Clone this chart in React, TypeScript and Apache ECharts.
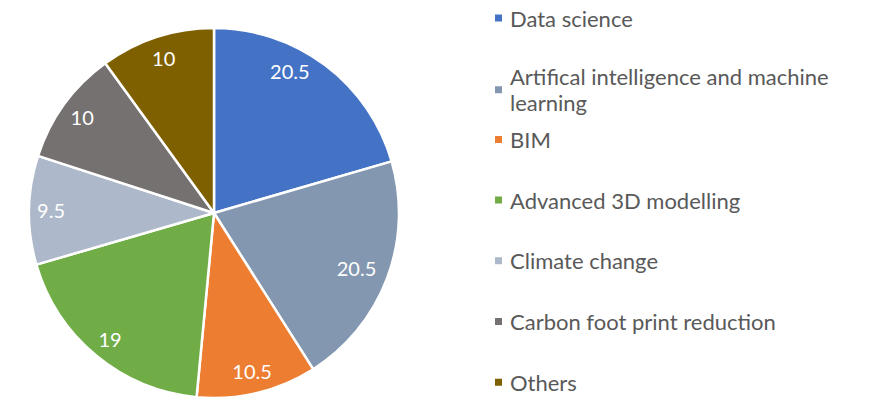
import React, { useEffect, useRef } from "react";
import * as echarts from "echarts";

const categories = [
  "Data science",
  "Artifical intelligence and machine learning",
  "BIM",
  "Advanced 3D modelling",
  "Climate change",
  "Carbon foot print reduction",
  "Others",
];
const values = [20.5, 20.5, 10.5, 19, 9.5, 10, 10];
const colors = ["#4472C4", "#8497B0", "#ED7D31", "#70AD47", "#ADB9CA", "#767171", "#7F6000"];

export default function App() {
  const ref = useRef<HTMLDivElement>(null);
  useEffect(() => {
    if (!ref.current) return;
    const chart = echarts.init(ref.current, undefined, { renderer: "svg" });
    const font = "Lato, 'Noto Sans', sans-serif";
    const data = categories.map((n, i) => ({ name: n, value: values[i], itemStyle: { color: colors[i] } }));
    const legends = categories.map((n, i) => ({
      orient: "vertical" as const,
      left: 493,
      top: 18 + i * 60.7 - 13,
      padding: 0,
      data: [n],
      icon: "rect",
      itemWidth: 9,
      itemHeight: 9,
      selectedMode: false,
      formatter: (name: string) =>
        name === "Artifical intelligence and machine learning"
          ? "Artifical intelligence and machine\nlearning"
          : name,
      textStyle: {
        color: "#595959",
        fontSize: 22,
        fontFamily: font,
        lineHeight: 26,
        height: 26,
        padding: [0, 0, 0, 2],
      },
    }));
    chart.setOption({
      animation: false,
      backgroundColor: "#ffffff",
      legend: legends,
      series: [
        {
          type: "pie",
          center: [214, 213],
          radius: [0, 185],
          startAngle: 90,
          clockwise: true,
          data,
          label: { show: false },
          labelLine: { show: false },
          itemStyle: { borderColor: "#ffffff", borderWidth: 2.5 },
          emphasis: { disabled: true },
        },
        {
          type: "pie",
          center: [214, 213],
          radius: [135, 185],
          startAngle: 90,
          clockwise: true,
          silent: true,
          data: categories.map((n, i) => ({
            name: n,
            value: values[i],
            label: i === 0 ? { offset: [-22, -12] } : i === 1 ? { offset: [-10, -3] } : undefined,
          })),
          itemStyle: { color: "rgba(0,0,0,0)", borderWidth: 0 },
          label: {
            show: true,
            position: "inside",
            color: "#ffffff",
            fontSize: 20,
            fontFamily: font,
            formatter: (p: any) => String(p.value),
          },
          labelLine: { show: false },
          emphasis: { disabled: true },
        },
      ],
    });
    return () => chart.dispose();
  }, []);
  return (
    <div
      ref={ref}
      style={{ position: "fixed", left: 0, top: 0, width: 870, height: 400 }}
    />
  );
}
